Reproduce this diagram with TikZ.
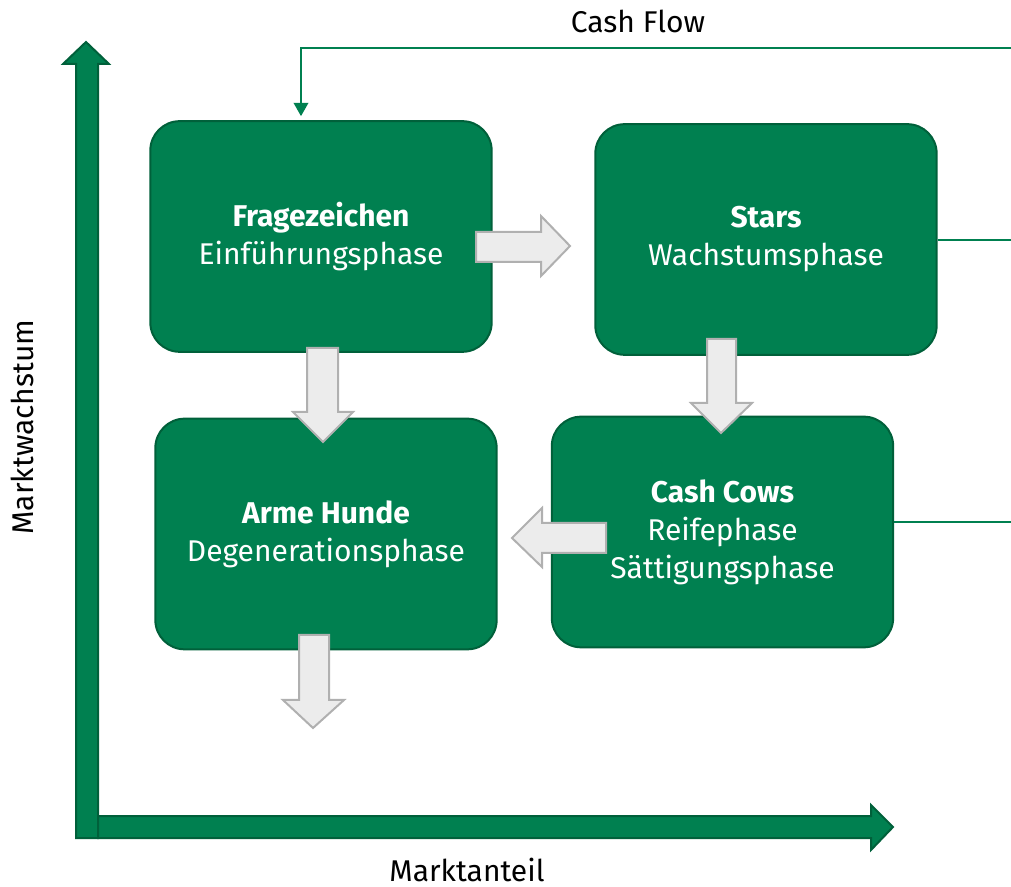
\documentclass[tikz,border=0pt]{standalone}
\usepackage{fontspec}
\setmainfont{Fira Sans}
\usetikzlibrary{arrows.meta}
\definecolor{boxgreen}{RGB}{0,128,80}
\definecolor{boxedge}{RGB}{0,96,58}
\definecolor{arrowgray}{RGB}{236,236,236}
\definecolor{arrowedge}{RGB}{176,176,176}

\begin{document}
\begin{tikzpicture}[x=0.75pt,y=-0.75pt,
  phase/.style={draw=boxedge,line width=1.5pt,fill=boxgreen,rounded corners=22pt,
    minimum width=256pt,minimum height=173pt,text=white,align=center,
    font=\fontsize{22.5pt}{28.5pt}\selectfont},
  blockarrow/.style={draw=arrowedge,line width=1.5pt,fill=arrowgray},
  axis/.style={draw=boxedge,line width=1.5pt,fill=boxgreen},
  label/.style={font=\fontsize{22.5pt}{28.5pt}\selectfont},
  flow/.style={draw=boxgreen,line width=1.2pt}]

\useasboundingbox (0,0) rectangle (1011,887);

% axes
\draw[axis] (76,838) -- (76,64) -- (63,64) -- (86,42) -- (109,64) -- (98,64) -- (98,838) -- cycle;
\draw[axis] (98,816) -- (871,816) -- (871,805) -- (893,827) -- (871,850) -- (871,838) -- (98,838) -- cycle;

\node[label,anchor=base] (v5) at (638,33) {Cash Flow};
\node[label,anchor=base] (v6) at (467,881) {Marktanteil};
\node[label,rotate=90] (v7) at (22,427) {Marktwachstum};

% phases
\node[phase] (v1) at (321,236.5) {\textbf{Fragezeichen}\\Einführungsphase};
\node[phase] (v2) at (766,239.5) {\textbf{Stars}\\Wachstumsphase};
\node[phase] (v3) at (326,534) {\textbf{Arme Hunde}\\Degenerationsphase};
\node[phase] (v4) at (722.5,532) {\textbf{Cash Cows}\\Reifephase\\Sättigungsphase};

% gray block arrows
\draw[blockarrow] (476,232) -- (541,232) -- (541,216) -- (570,246) -- (541,276) -- (541,262) -- (476,262) -- cycle;
\draw[blockarrow] (307,348) -- (338,348) -- (338,412) -- (353,412) -- (323,442) -- (293,412) -- (307,412) -- cycle;
\draw[blockarrow] (707,339) -- (736,339) -- (736,403) -- (752,403) -- (721,433) -- (691,403) -- (707,403) -- cycle;
\draw[blockarrow] (606,523) -- (542,523) -- (542,508) -- (512,538) -- (542,567) -- (542,553) -- (606,553) -- cycle;
\draw[blockarrow] (299,635) -- (329,635) -- (329,700) -- (344,700) -- (313,728) -- (283,700) -- (299,700) -- cycle;

% cash flow lines
\coordinate (v10) at (1011,48);
\coordinate (v11) at (301,48);
\coordinate (v12) at (1011,240);
\coordinate (v13) at (1011,522);
\draw[flow,-{Triangle[width=11pt,length=10pt]},shorten >=3pt] (v10) -- (v11) -- (v11 |- v1.north);
\draw[flow] (v2.east |- v12) -- (v12);
\draw[flow] (v4.east |- v13) -- (v13);
\end{tikzpicture}
\end{document}
